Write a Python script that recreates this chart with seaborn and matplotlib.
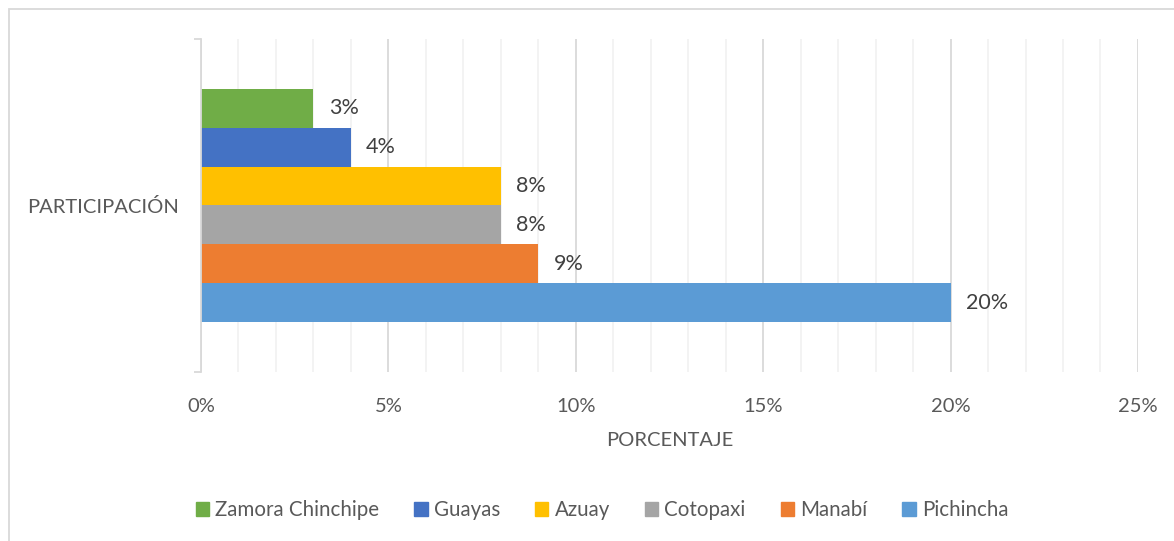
import pandas as pd
import matplotlib.pyplot as plt
import seaborn as sns
from matplotlib.ticker import MultipleLocator, FuncFormatter
from matplotlib.patches import Rectangle

# Data
categoria = "PARTICIPACIÓN"
provincias = ["Zamora Chinchipe", "Guayas", "Azuay", "Cotopaxi", "Manabí", "Pichincha"]
porcentajes = [3, 4, 8, 8, 9, 20]
colores = ["#70AD47", "#4472C4", "#FFC000", "#A5A5A5", "#ED7D31", "#5B9BD5"]

df = pd.DataFrame({"categoria": categoria, "provincia": provincias, "valor": porcentajes})

sns.set_style("white")
plt.rcParams['font.family'] = ['Lato', 'DejaVu Sans']
txt = "#595959"
fs = 14.5

fig = plt.figure(figsize=(11.74, 5.41), dpi=100)
ax = fig.add_axes([0.1712, 0.3124, 0.7981, 0.6155])

sns.barplot(data=df, y="categoria", x="valor", hue="provincia", hue_order=provincias,
            palette=colores, orient="h", width=0.7, saturation=1, linewidth=0,
            ax=ax, legend=False)

for c in ax.containers:
    ax.bar_label(c, fmt="%g%%", padding=11, color="#404040", fontsize=15.5)

ax.set_xlim(0, 25)
ax.set_ylim(0.5, -0.5)
ax.xaxis.set_major_locator(MultipleLocator(5))
ax.xaxis.set_minor_locator(MultipleLocator(1))
ax.xaxis.set_major_formatter(FuncFormatter(lambda v, p: f"{v:g}%"))
ax.grid(axis="x", which="major", color="#D9D9D9", linewidth=1.3)
ax.grid(axis="x", which="minor", color="#F2F2F2", linewidth=1.3)
ax.set_axisbelow(True)
ax.tick_params(axis="x", which="both", length=0, pad=19, labelsize=fs, labelcolor=txt)
ax.tick_params(axis="y", which="major", length=0, pad=16, labelsize=fs, labelcolor=txt)
ax.set_yticks([-0.5, 0.5], minor=True)
ax.tick_params(axis="y", which="minor", left=True, length=5, color="#D9D9D9", width=1.3)

for s in ["top", "right", "bottom"]:
    ax.spines[s].set_visible(False)
ax.spines["left"].set_color("#D9D9D9")
ax.spines["left"].set_linewidth(1.3)

ax.set_xlabel("PORCENTAJE", fontsize=fs, color=txt, labelpad=12)
ax.set_ylabel("")

handles = [Rectangle((0, 0), 1, 1, color=c) for c in colores]
fig.legend(handles, provincias, loc="center", bbox_to_anchor=(602 / 1174, 1 - 510 / 541),
           ncol=6, frameon=False, fontsize=14.8, labelcolor=txt, handlelength=0.65,
           handleheight=0.65, handletextpad=0.3, columnspacing=1.7)

fig.patches.append(Rectangle((9 / 1174, -0.05), 1.1, 1 - 9 / 541 + 0.05,
                             transform=fig.transFigure, fill=False,
                             edgecolor="#D9D9D9", linewidth=1.3))

fig.savefig("out.png", dpi=100)
